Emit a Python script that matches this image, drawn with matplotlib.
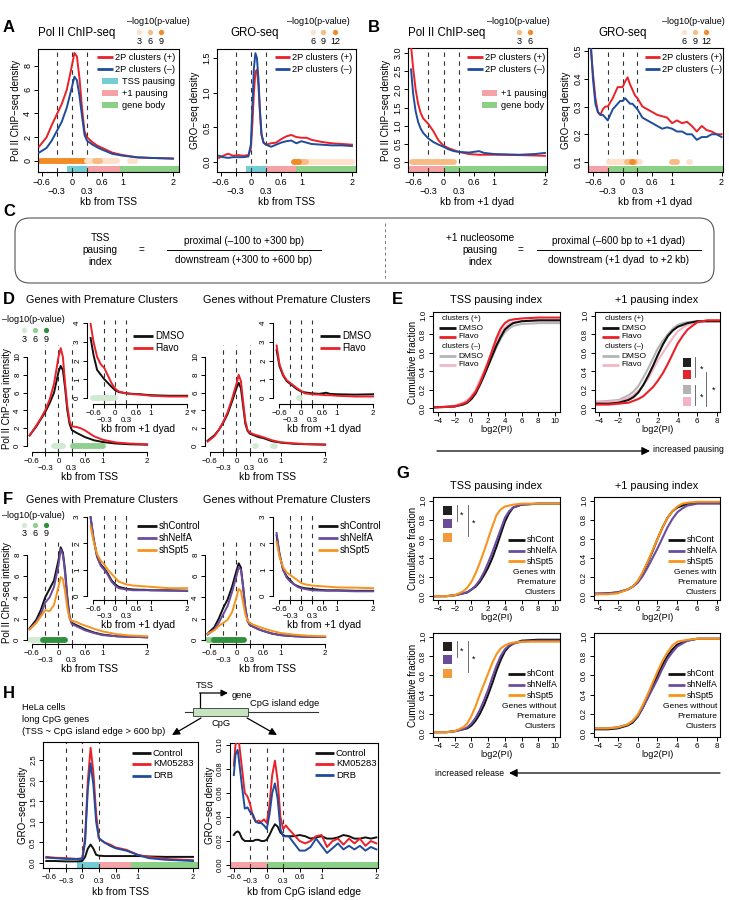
import numpy as np
import matplotlib
matplotlib.use("Agg")
import matplotlib.pyplot as plt
from matplotlib.patches import Rectangle, FancyBboxPatch
from matplotlib.transforms import blended_transform_factory

plt.rcParams['font.family'] = ['Liberation Sans', 'DejaVu Sans']
plt.rcParams['axes.linewidth'] = 0.8

##### DATA #####
# A: profiles around TSS (kb)
X_TSS = [-0.65, -0.5, -0.4, -0.3, -0.2, -0.1, 0, 0.05, 0.1, 0.15, 0.2, 0.25, 0.3, 0.4, 0.5, 0.6, 0.8, 1.0, 1.3, 1.6, 2.0]
a_chip_plus = [1.2, 2.0, 3.0, 3.9, 4.8, 6.0, 8.0, 9.1, 8.8, 7.0, 4.5, 2.5, 2.0, 1.6, 1.3, 1.1, 0.7, 0.5, 0.3, 0.25, 0.2]
a_chip_minus = [0.7, 1.1, 1.7, 2.5, 3.3, 4.5, 6.2, 7.1, 6.8, 5.5, 3.8, 2.2, 1.7, 1.4, 1.15, 0.95, 0.6, 0.45, 0.3, 0.25, 0.2]

X_A_GRO = [-0.63, -0.55, -0.45, -0.35, -0.25, -0.15, -0.05, 0, 0.03, 0.06, 0.09, 0.12, 0.15, 0.18, 0.21, 0.25,
           0.3, 0.4, 0.5, 0.6, 0.7, 0.8, 0.9, 1.0, 1.1, 1.2, 1.4, 1.6, 1.8, 2.0]
a_gro_plus = [0.06, 0.09, 0.12, 0.09, 0.1, 0.09, 0.1, 0.2, 0.55, 1.0, 1.3, 1.33, 1.1, 0.7, 0.4, 0.28,
              0.25, 0.27, 0.28, 0.33, 0.37, 0.39, 0.36, 0.35, 0.35, 0.32, 0.29, 0.27, 0.26, 0.25]
a_gro_minus = [0.09, 0.07, 0.06, 0.07, 0.07, 0.07, 0.08, 0.25, 0.8, 1.35, 1.57, 1.5, 1.2, 0.75, 0.4, 0.28,
               0.25, 0.22, 0.25, 0.28, 0.3, 0.31, 0.27, 0.3, 0.28, 0.26, 0.25, 0.24, 0.24, 0.23]

# B: profiles around +1 dyad
X_B_CHIP = [-0.64, -0.6, -0.55, -0.5, -0.45, -0.4, -0.3, -0.2, -0.1, 0, 0.1, 0.2, 0.3, 0.5, 0.7, 0.8, 1.0, 1.5, 1.8, 2.0]
b_chip_plus = [3.2, 2.6, 2.0, 1.6, 1.35, 1.2, 1.05, 0.85, 0.6, 0.45, 0.38, 0.33, 0.28, 0.22, 0.2, 0.2, 0.2, 0.19, 0.18, 0.17]
b_chip_minus = [2.55, 1.9, 1.4, 1.1, 0.92, 0.8, 0.65, 0.55, 0.48, 0.42, 0.35, 0.3, 0.28, 0.26, 0.3, 0.25, 0.22, 0.2, 0.22, 0.25]

X_B_GRO = [-0.64, -0.6, -0.55, -0.5, -0.45, -0.4, -0.35, -0.3, -0.2, -0.1, -0.05, 0, 0.05, 0.1, 0.15, 0.2, 0.25, 0.3,
           0.4, 0.5, 0.6, 0.7, 0.8, 0.9, 1.0, 1.1, 1.2, 1.3, 1.4, 1.5, 1.6, 1.7, 1.8, 1.9, 2.0]
b_gro_plus = [0.5, 0.42, 0.33, 0.28, 0.27, 0.29, 0.3, 0.3, 0.33, 0.37, 0.37, 0.37, 0.39, 0.405, 0.38, 0.36, 0.34, 0.33,
              0.3, 0.29, 0.28, 0.27, 0.265, 0.26, 0.24, 0.25, 0.24, 0.245, 0.23, 0.21, 0.23, 0.215, 0.21, 0.2, 0.2]
b_gro_minus = [0.52, 0.4, 0.31, 0.28, 0.27, 0.27, 0.26, 0.25, 0.29, 0.31, 0.32, 0.32, 0.33, 0.32, 0.31, 0.31, 0.3, 0.29,
               0.26, 0.25, 0.24, 0.23, 0.22, 0.225, 0.22, 0.21, 0.21, 0.2, 0.2, 0.18, 0.19, 0.19, 0.2, 0.2, 0.19]

# significance dots: (start kb, end kb, -log10 p level)
a_chip_sig = [(-0.63, 0.28, 3), (0.3, 0.9, 1), (0.45, 0.55, 2), (1.15, 1.25, 1)]
a_gro_sig = [(0.85, 2.0, 1), (0.95, 1.1, 2), (0.85, 0.95, 3)]
b_chip_sig = [(-0.62, 0.2, 2)]
b_gro_sig = [(-0.28, 0.35, 1), (0.08, 0.25, 2), (0.18, 0.22, 3), (0.55, 0.56, 1), (0.85, 0.86, 1), (1.0, 1.1, 2), (1.35, 1.36, 1)]

# D / F: profiles (TSS main, +1 dyad inset)
X_IN = [-0.68, -0.6, -0.5, -0.4, -0.3, -0.2, -0.1, 0, 0.1, 0.3, 0.5, 0.7, 0.8, 1.0, 1.5, 2.0]
d_with_dmso = [1.2, 2.2, 3.0, 3.8, 4.8, 6.0, 8.3, 9.0, 8.5, 6.5, 4.0, 2.5, 1.8, 1.5, 1.25, 1.0, 0.65, 0.45, 0.28, 0.2, 0.15]
d_with_flavo = [1.2, 2.3, 3.1, 4.0, 5.2, 7.0, 10.0, 11.0, 10.0, 7.0, 4.5, 2.8, 2.2, 2.15, 2.0, 1.75, 1.1, 0.7, 0.4, 0.28, 0.2]
d_without_dmso = [0.6, 1.2, 1.8, 2.6, 3.6, 5.0, 6.5, 7.1, 6.5, 4.5, 2.5, 1.7, 1.4, 1.2, 1.0, 0.9, 0.55, 0.38, 0.25, 0.2, 0.15]
d_without_flavo = [0.5, 1.1, 1.8, 2.7, 3.8, 5.3, 7.0, 8.0, 7.3, 5.0, 2.8, 1.8, 1.5, 1.3, 1.15, 1.0, 0.65, 0.42, 0.3, 0.22, 0.18]
d_with_dmso_in = [3.2, 2.3, 1.5, 1.25, 1.0, 0.8, 0.6, 0.42, 0.32, 0.25, 0.22, 0.2, 0.18, 0.15, 0.12, 0.12]
d_with_flavo_in = [3.95, 3.0, 2.2, 1.8, 1.6, 1.2, 0.8, 0.5, 0.35, 0.25, 0.2, 0.18, 0.16, 0.12, 0.08, 0.08]
d_without_dmso_in = [2.55, 1.7, 1.2, 0.9, 0.75, 0.6, 0.45, 0.35, 0.3, 0.25, 0.22, 0.28, 0.22, 0.2, 0.18, 0.2]
d_without_flavo_in = [2.8, 1.8, 1.25, 0.95, 0.8, 0.65, 0.5, 0.38, 0.25, 0.2, 0.18, 0.15, 0.15, 0.12, 0.08, 0.08]
d_with_sig = [(-0.1, 0.1, 1), (0.32, 1.0, 2)]
d_with_sig_in = [(-0.6, 0.0, 1)]
d_without_sig = [(0.42, 0.45, 1), (0.83, 0.86, 1)]
d_without_sig_in = [(-0.06, -0.03, 1)]

f_with_ctrl = [1.1, 1.9, 2.8, 4.0, 4.8, 5.6, 7.5, 8.7, 8.2, 6.5, 4.0, 2.2, 1.6, 1.4, 1.2, 1.0, 0.7, 0.5, 0.35, 0.3, 0.25]
f_with_nelfa = [1.0, 1.7, 2.4, 3.5, 4.0, 5.0, 7.0, 8.5, 8.0, 6.2, 3.8, 2.1, 1.5, 1.3, 1.1, 0.9, 0.65, 0.45, 0.35, 0.3, 0.25]
f_with_spt5 = [1.0, 1.6, 2.2, 2.8, 2.7, 3.3, 5.0, 5.9, 5.7, 4.5, 3.0, 2.0, 1.8, 1.7, 1.5, 1.35, 1.05, 0.8, 0.55, 0.42, 0.35]
f_without_ctrl = [0.6, 1.2, 2.0, 3.0, 3.8, 5.0, 6.5, 7.2, 6.8, 5.0, 3.0, 1.8, 1.4, 1.2, 1.0, 0.85, 0.6, 0.45, 0.35, 0.3, 0.28]
f_without_nelfa = [0.5, 1.0, 1.6, 2.4, 3.2, 4.5, 6.0, 6.8, 6.6, 5.0, 3.0, 1.8, 1.4, 1.2, 1.0, 0.85, 0.6, 0.45, 0.35, 0.3, 0.28]
f_without_spt5 = [0.6, 0.9, 1.3, 1.6, 1.9, 2.6, 4.0, 4.8, 4.6, 3.5, 2.4, 1.8, 1.6, 1.4, 1.25, 1.1, 0.85, 0.65, 0.5, 0.4, 0.35]
f_with_ctrl_in = [3.0, 2.2, 1.5, 1.2, 1.05, 0.85, 0.6, 0.45, 0.35, 0.28, 0.25, 0.24, 0.24, 0.22, 0.22, 0.2]
f_with_nelfa_in = [3.0, 2.2, 1.5, 1.15, 1.0, 0.8, 0.55, 0.4, 0.3, 0.25, 0.22, 0.22, 0.22, 0.22, 0.2, 0.2]
f_with_spt5_in = [2.65, 2.1, 1.6, 1.35, 1.2, 1.0, 0.85, 0.7, 0.55, 0.45, 0.4, 0.38, 0.37, 0.35, 0.3, 0.3]
f_without_ctrl_in = [2.3, 1.6, 1.0, 0.75, 0.6, 0.45, 0.38, 0.33, 0.3, 0.27, 0.24, 0.22, 0.22, 0.22, 0.2, 0.2]
f_without_nelfa_in = [2.4, 1.6, 1.0, 0.7, 0.55, 0.45, 0.35, 0.3, 0.27, 0.22, 0.21, 0.2, 0.2, 0.2, 0.18, 0.18]
f_without_spt5_in = [2.05, 1.5, 1.1, 0.9, 0.8, 0.7, 0.6, 0.5, 0.45, 0.4, 0.38, 0.36, 0.35, 0.33, 0.32, 0.3]
f_with_sig = [(-0.65, -0.35, 1), (-0.35, 0.15, 3)]
f_without_sig = [(-0.65, -0.5, 2), (-0.5, 0.18, 3)]

# E / G: cumulative distributions of log2(PI)
X_CDF_TSS = [-4.6, -3, -2, -1, -0.5, 0, 0.5, 1, 1.5, 2, 2.5, 3, 3.5, 4, 4.5, 5, 6, 8, 10.6]
X_CDF_P1 = [-4.4, -3, -2, -1, -0.5, 0, 0.5, 1, 1.5, 2, 2.5, 3, 3.5, 4, 4.5, 5, 6, 7, 8.3]
e_tss_dmso_p = [0.01, 0.015, 0.02, 0.04, 0.06, 0.1, 0.16, 0.25, 0.35, 0.46, 0.57, 0.68, 0.77, 0.85, 0.89, 0.92, 0.94, 0.95, 0.95]
e_tss_flavo_p = [0.01, 0.015, 0.02, 0.05, 0.07, 0.12, 0.18, 0.27, 0.38, 0.5, 0.63, 0.76, 0.86, 0.92, 0.95, 0.96, 0.97, 0.98, 0.98]
e_tss_dmso_m = [0.01, 0.015, 0.02, 0.05, 0.08, 0.12, 0.18, 0.27, 0.36, 0.46, 0.56, 0.66, 0.75, 0.82, 0.86, 0.89, 0.91, 0.92, 0.92]
e_tss_flavo_m = [0.01, 0.02, 0.03, 0.06, 0.09, 0.13, 0.2, 0.3, 0.4, 0.5, 0.61, 0.72, 0.81, 0.87, 0.91, 0.93, 0.94, 0.95, 0.95]
e_p1_dmso_p = [0.05, 0.05, 0.06, 0.09, 0.12, 0.17, 0.25, 0.35, 0.46, 0.58, 0.69, 0.78, 0.84, 0.88, 0.9, 0.92, 0.94, 0.94, 0.94]
e_p1_flavo_p = [0.04, 0.04, 0.05, 0.06, 0.08, 0.1, 0.13, 0.18, 0.23, 0.3, 0.38, 0.48, 0.59, 0.7, 0.78, 0.85, 0.93, 0.95, 0.95]
e_p1_dmso_m = [0.07, 0.08, 0.09, 0.14, 0.18, 0.24, 0.33, 0.43, 0.54, 0.65, 0.73, 0.8, 0.86, 0.9, 0.92, 0.93, 0.94, 0.94, 0.94]
e_p1_flavo_m = [0.07, 0.07, 0.08, 0.11, 0.14, 0.19, 0.25, 0.32, 0.42, 0.52, 0.6, 0.68, 0.76, 0.83, 0.87, 0.9, 0.93, 0.95, 0.95]

g_tss_with = {'shCont': [0.0, 0.0, 0.01, 0.03, 0.04, 0.07, 0.1, 0.15, 0.22, 0.3, 0.4, 0.52, 0.65, 0.78, 0.87, 0.93, 0.96, 0.97, 0.97],
              'shNelfA': [0.0, 0.0, 0.01, 0.03, 0.04, 0.07, 0.11, 0.17, 0.25, 0.35, 0.46, 0.58, 0.7, 0.82, 0.89, 0.93, 0.96, 0.97, 0.97],
              'shSpt5': [0.0, 0.0, 0.01, 0.05, 0.09, 0.15, 0.24, 0.35, 0.47, 0.6, 0.73, 0.85, 0.91, 0.94, 0.95, 0.96, 0.97, 0.97, 0.97]}
g_p1_with = {'shCont': [0.02, 0.03, 0.04, 0.07, 0.1, 0.15, 0.24, 0.35, 0.47, 0.6, 0.72, 0.82, 0.89, 0.93, 0.95, 0.97, 0.98, 0.98, 0.98],
             'shNelfA': [0.03, 0.03, 0.04, 0.07, 0.1, 0.14, 0.21, 0.3, 0.4, 0.5, 0.61, 0.72, 0.81, 0.88, 0.92, 0.95, 0.97, 0.97, 0.97],
             'shSpt5': [0.02, 0.02, 0.03, 0.07, 0.1, 0.16, 0.25, 0.36, 0.48, 0.6, 0.72, 0.82, 0.89, 0.94, 0.97, 0.98, 0.99, 0.99, 0.99]}
g_tss_without = {'shCont': [0.01, 0.01, 0.02, 0.04, 0.05, 0.08, 0.13, 0.2, 0.29, 0.4, 0.52, 0.65, 0.76, 0.85, 0.9, 0.93, 0.96, 0.97, 0.97],
                 'shNelfA': [0.01, 0.01, 0.02, 0.04, 0.06, 0.1, 0.16, 0.24, 0.34, 0.45, 0.58, 0.7, 0.8, 0.87, 0.91, 0.93, 0.95, 0.96, 0.96],
                 'shSpt5': [0.01, 0.01, 0.02, 0.06, 0.1, 0.18, 0.28, 0.4, 0.51, 0.62, 0.73, 0.82, 0.88, 0.91, 0.93, 0.94, 0.95, 0.95, 0.95]}
g_p1_without = {'shCont': [0.04, 0.04, 0.05, 0.08, 0.11, 0.17, 0.26, 0.37, 0.49, 0.6, 0.71, 0.8, 0.87, 0.92, 0.94, 0.96, 0.98, 0.98, 0.98],
                'shNelfA': [0.05, 0.05, 0.06, 0.09, 0.12, 0.18, 0.26, 0.36, 0.46, 0.56, 0.67, 0.77, 0.84, 0.9, 0.93, 0.96, 0.98, 0.98, 0.98],
                'shSpt5': [0.05, 0.05, 0.06, 0.09, 0.13, 0.19, 0.29, 0.4, 0.52, 0.64, 0.75, 0.84, 0.91, 0.95, 0.96, 0.97, 0.98, 0.98, 0.98]}

# H: GRO-seq in HeLa long CpG genes
X_H_TSS = [-0.65, -0.5, -0.3, -0.1, 0, 0.05, 0.1, 0.15, 0.2, 0.25, 0.3, 0.4, 0.5, 0.6, 0.8, 1.0, 1.2, 1.5, 2.0]
h_tss_control = [0.05, 0.05, 0.04, 0.04, 0.05, 0.15, 0.35, 0.45, 0.35, 0.2, 0.18, 0.17, 0.17, 0.17, 0.17, 0.17, 0.16, 0.15, 0.15]
h_tss_km = [0.15, 0.13, 0.12, 0.1, 0.12, 0.6, 2.0, 2.8, 2.2, 1.2, 0.6, 0.5, 0.45, 0.38, 0.32, 0.2, 0.15, 0.1, 0.07]
h_tss_drb = [0.13, 0.12, 0.1, 0.1, 0.1, 0.5, 1.8, 2.42, 1.9, 1.0, 0.6, 0.5, 0.42, 0.36, 0.3, 0.2, 0.12, 0.08, 0.05]
X_H_CPG = [-0.6, -0.57, -0.53, -0.5, -0.45, -0.4, -0.35, -0.3, -0.25, -0.2, -0.15, -0.1, -0.05, 0,
           0.05, 0.1, 0.15, 0.2, 0.25, 0.3, 0.35, 0.4, 0.5, 0.6, 0.7, 0.8, 0.9, 1.0, 1.1, 1.2, 1.3, 1.4,
           1.5, 1.6, 1.7, 1.8, 1.9, 2.0]
h_cpg_control = [0.025, 0.027, 0.028, 0.027, 0.022, 0.02, 0.02, 0.02, 0.02, 0.021, 0.021, 0.02, 0.02, 0.021,
                 0.025, 0.03, 0.034, 0.032, 0.027, 0.025, 0.024, 0.024, 0.024, 0.025, 0.024, 0.022, 0.023, 0.024,
                 0.022, 0.022, 0.023, 0.025, 0.024, 0.022, 0.022, 0.023, 0.022, 0.023]
h_cpg_km = [0.083, 0.1, 0.105, 0.1, 0.08, 0.06, 0.057, 0.05, 0.04, 0.036, 0.037, 0.036, 0.038, 0.035,
            0.05, 0.075, 0.087, 0.07, 0.04, 0.03, 0.033, 0.03, 0.025, 0.02, 0.018, 0.02, 0.024, 0.025,
            0.015, 0.02, 0.022, 0.017, 0.022, 0.018, 0.022, 0.016, 0.02, 0.018]
h_cpg_drb = [0.075, 0.092, 0.096, 0.085, 0.065, 0.047, 0.048, 0.044, 0.042, 0.036, 0.035, 0.035, 0.033, 0.03,
             0.042, 0.06, 0.068, 0.055, 0.03, 0.024, 0.024, 0.024, 0.018, 0.012, 0.012, 0.015, 0.022, 0.016,
             0.01, 0.014, 0.018, 0.013, 0.016, 0.013, 0.016, 0.012, 0.015, 0.013]

##### STYLE #####
RED = '#ea2128'
BLUE = '#1f4c9c'
BLK = '#111111'
PURP = '#6a4c9f'
ORNG = '#f7941d'
GRAY = '#b5b5b5'
PINK = '#f5b5c5'
CYAN_R, PINK_R, GREEN_R = '#72cdd5', '#f4a2a6', '#8ccf86'
ORANGE_LV = {1: '#fde1c9', 2: '#f9bb84', 3: '#f28a25'}
GREEN_LV = {1: '#d2e9d2', 2: '#8fcf8f', 3: '#2e8f3c'}
DASH = (0, (4, 4))

W, H = 729, 900
fig = plt.figure(figsize=(W / 100, H / 100), dpi=100)


def px(x0, y0, x1, y1):
    return [x0 / W, 1 - y1 / H, (x1 - x0) / W, (y1 - y0) / H]


def kb_ticks(ax, fs, pad2):
    ax.set_xticks([-0.6, 0, 0.6, 1, 2])
    ax.set_xticklabels(['\u22120.6', '0', '0.6', '1', '2'])
    ax.set_xticks([-0.3, 0.3], minor=True)
    ax.set_xticklabels(['\u22120.3', '0.3'], minor=True)
    ax.tick_params(axis='x', which='both', labelsize=fs, length=3, width=0.7, pad=1)
    ax.tick_params(axis='x', which='minor', pad=pad2)


def y_ticks(ax, ticks, labels, fs):
    ax.set_yticks(ticks)
    ax.set_yticklabels(labels, rotation=90, va='center')
    ax.tick_params(axis='y', labelsize=fs, length=3, width=0.7, pad=1.2)


def region_bars(ax, spans, h=0.045):
    tr = blended_transform_factory(ax.transData, ax.transAxes)
    for x0, x1, c in spans:
        ax.add_patch(Rectangle((x0, 0), x1 - x0, h, transform=tr, color=c, lw=0, zorder=1))


def sig(ax, segs, y, lv):
    for x0, x1, l in segs:
        ax.plot([x0, x1], [y, y], color=lv[l], lw=4.2, solid_capstyle='round', zorder=2)


def profile_box(rect, xlim, ylim, series, yt, ylab, ylabel, xlabel, fs=6.5, pad2=7.5):
    ax = fig.add_axes(px(*rect))
    for x, y, c in series:
        ax.plot(x, y, color=c, lw=1.4, zorder=3)
    for d in (-0.3, 0, 0.3):
        ax.axvline(d, color='#333333', lw=0.8, ls=DASH, zorder=2)
    ax.set_xlim(*xlim)
    ax.set_ylim(*ylim)
    kb_ticks(ax, fs, pad2)
    y_ticks(ax, yt, ylab, fs)
    ax.set_ylabel(ylabel, fontsize=7, labelpad=1.5)
    ax.set_xlabel(xlabel, fontsize=7.4, labelpad=1)
    return ax


def profile_open(rect, xlim, ylim, series, yt, xlabel, ylabel=None):
    ax = fig.add_axes(px(*rect))
    ax.patch.set_alpha(0)
    for x, y, c in series:
        ax.plot(x, y, color=c, lw=1.4, zorder=3)
    for d in (-0.3, 0, 0.3):
        ax.axvline(d, color='#333333', lw=0.8, ls=DASH, zorder=2)
    ax.set_xlim(*xlim)
    ax.set_ylim(*ylim)
    for s in ('top', 'right'):
        ax.spines[s].set_visible(False)
    ax.spines['left'].set_bounds(yt[0], yt[-1])
    ax.spines['bottom'].set_bounds(-0.6, 2)
    kb_ticks(ax, 5.8, 6)
    y_ticks(ax, yt, [str(t) for t in yt], 5.8)
    ax.set_xlabel(xlabel, fontsize=7.4, labelpad=0)
    if ylabel:
        ax.set_ylabel(ylabel, fontsize=7, labelpad=1.5)
    return ax


def cdf_axes(rect, xlim, xt, xs, series, ylabel=True):
    ax = fig.add_axes(px(*rect))
    for y, c in series:
        ax.plot(xs, y, color=c, lw=1.5)
    ax.set_xlim(*xlim)
    ax.set_ylim(-0.04, 1.04)
    ax.set_xticks(xt)
    ax.set_xticklabels([str(t).replace('-', '\u2212') for t in xt])
    ax.tick_params(axis='x', labelsize=5.8, length=3, width=0.7, pad=1)
    y_ticks(ax, [0, 0.2, 0.4, 0.6, 0.8, 1.0], ['0.0', '0.2', '0.4', '0.6', '0.8', '1.0'], 5.8)
    ax.set_xlabel('log2(PI)', fontsize=6.6, labelpad=0)
    if ylabel:
        ax.set_ylabel('Cumulative fraction', fontsize=7, labelpad=1.5)
    return ax


##### A #####
ax = profile_box((38, 49, 179, 172), (-0.67, 2.12), (-0.93, 9.43),
                 [(X_TSS, a_chip_plus, RED), (X_TSS, a_chip_minus, BLUE)],
                 [0, 2, 4, 6, 8], ['0', '2', '4', '6', '8'], 'Pol II ChIP\u2212seq density', 'kb from TSS')
sig(ax, a_chip_sig, 0, ORANGE_LV)
region_bars(ax, [(-0.1, 0.3, CYAN_R), (0.3, 0.95, PINK_R), (0.95, 2.3, GREEN_R)])

ax = profile_box((217, 49, 356, 172), (-0.67, 2.08), (-0.144, 1.63),
                 [(X_A_GRO, a_gro_plus, RED), (X_A_GRO, a_gro_minus, BLUE)],
                 [0, 0.5, 1.0, 1.5], ['0.0', '0.5', '1.0', '1.5'], 'GRO\u2212seq density', 'kb from TSS')
sig(ax, a_gro_sig, 0, ORANGE_LV)
region_bars(ax, [(-0.1, 0.3, CYAN_R), (0.3, 0.9, PINK_R), (0.9, 2.3, GREEN_R)])

##### B #####
ax = profile_box((408, 48, 547, 172), (-0.7, 2.04), (-0.275, 3.14),
                 [(X_B_CHIP, b_chip_plus, RED), (X_B_CHIP, b_chip_minus, BLUE)],
                 [0, 0.5, 1.0, 1.5, 2.0, 2.5, 3.0], ['0.0', '0.5', '1.0', '1.5', '2.0', '2.5', '3.0'],
                 'Pol II ChIP\u2212seq density', 'kb from +1 dyad')
sig(ax, b_chip_sig, 0, ORANGE_LV)
region_bars(ax, [(-0.9, 0, PINK_R), (0, 2.3, GREEN_R)])

ax = profile_box((588, 48, 723, 172), (-0.7, 2.03), (0.064, 0.511),
                 [(X_B_GRO, b_gro_plus, RED), (X_B_GRO, b_gro_minus, BLUE)],
                 [0.1, 0.2, 0.3, 0.4, 0.5], ['0.1', '0.2', '0.3', '0.4', '0.5'], 'GRO\u2212seq density',
                 'kb from +1 dyad')
sig(ax, b_gro_sig, 0.1, ORANGE_LV)
region_bars(ax, [(-0.9, -0.27, PINK_R), (-0.27, 2.3, GREEN_R)])

##### D #####
ylab_chp = 'Pol II ChP-seq intensity'
profile_open((27, 345, 152, 452), (-0.71, 2.11), (-0.67, 11.35),
             [(X_TSS, d_with_dmso, BLK), (X_TSS, d_with_flavo, RED)], [0, 2, 4, 6, 8, 10], 'kb from TSS', ylab_chp)
sig(fig.axes[-1], d_with_sig, 0, GREEN_LV)
profile_open((87, 320, 190, 404), (-0.78, 2.08), (-0.32, 4.16),
             [(X_IN, d_with_dmso_in, BLK), (X_IN, d_with_flavo_in, RED)], [0, 1, 2, 3, 4], 'kb from +1 dyad')
sig(fig.axes[-1], d_with_sig_in, 0, GREEN_LV)
profile_open((205, 345, 330, 452), (-0.71, 2.11), (-0.67, 11.35),
             [(X_TSS, d_without_dmso, BLK), (X_TSS, d_without_flavo, RED)], [0, 2, 4, 6, 8, 10], 'kb from TSS')
sig(fig.axes[-1], d_without_sig, 0, GREEN_LV)
profile_open((273, 320, 376, 404), (-0.78, 2.08), (-0.32, 4.16),
             [(X_IN, d_without_dmso_in, BLK), (X_IN, d_without_flavo_in, RED)], [0, 1, 2, 3, 4], 'kb from +1 dyad')
sig(fig.axes[-1], d_without_sig_in, 0, GREEN_LV)

##### F #####
profile_open((27, 542, 152, 644), (-0.71, 2.11), (-0.38, 9.2),
             [(X_TSS, f_with_ctrl, BLK), (X_TSS, f_with_nelfa, PURP), (X_TSS, f_with_spt5, ORNG)],
             [0, 2, 4, 6, 8], 'kb from TSS', ylab_chp)
sig(fig.axes[-1], f_with_sig, 0, GREEN_LV)
profile_open((87, 513, 190, 600), (-0.78, 2.08), (-0.15, 3.16),
             [(X_IN, f_with_ctrl_in, BLK), (X_IN, f_with_nelfa_in, PURP), (X_IN, f_with_spt5_in, ORNG)],
             [0, 1, 2, 3], 'kb from +1 dyad')
profile_open((205, 542, 330, 644), (-0.71, 2.11), (-0.38, 9.2),
             [(X_TSS, f_without_ctrl, BLK), (X_TSS, f_without_nelfa, PURP), (X_TSS, f_without_spt5, ORNG)],
             [0, 2, 4, 6, 8], 'kb from TSS')
sig(fig.axes[-1], f_without_sig, 0, GREEN_LV)
profile_open((273, 513, 376, 600), (-0.78, 2.08), (-0.15, 3.16),
             [(X_IN, f_without_ctrl_in, BLK), (X_IN, f_without_nelfa_in, PURP), (X_IN, f_without_spt5_in, ORNG)],
             [0, 1, 2, 3], 'kb from +1 dyad')

##### E #####
XT_TSS = [-4, -2, 0, 2, 4, 6, 8, 10]
XT_P1 = [-4, -2, 0, 2, 4, 6, 8]
cdf_axes((433, 312, 560, 412), (-4.6, 10.6), XT_TSS, X_CDF_TSS,
         [(e_tss_dmso_m, GRAY), (e_tss_flavo_m, PINK), (e_tss_dmso_p, BLK), (e_tss_flavo_p, RED)])
cdf_axes((595, 312, 720, 412), (-4.4, 8.3), XT_P1, X_CDF_P1,
         [(e_p1_dmso_m, GRAY), (e_p1_flavo_m, PINK), (e_p1_dmso_p, BLK), (e_p1_flavo_p, RED)], ylabel=False)

##### G #####
sh_cols = {'shCont': BLK, 'shNelfA': PURP, 'shSpt5': ORNG}
cdf_axes((433, 497, 560, 600), (-4.6, 10.6), XT_TSS, X_CDF_TSS, [(v, sh_cols[k]) for k, v in g_tss_with.items()])
cdf_axes((594, 497, 720, 600), (-4.4, 8.3), XT_P1, X_CDF_P1, [(v, sh_cols[k]) for k, v in g_p1_with.items()], ylabel=False)
cdf_axes((433, 633, 560, 737), (-4.6, 10.6), XT_TSS, X_CDF_TSS, [(v, sh_cols[k]) for k, v in g_tss_without.items()])
cdf_axes((594, 633, 720, 737), (-4.4, 8.3), XT_P1, X_CDF_P1, [(v, sh_cols[k]) for k, v in g_p1_without.items()], ylabel=False)

##### H #####
ax = profile_box((43, 742, 198, 868), (-0.71, 2.09), (-0.12, 2.94),
                 [(X_H_TSS, h_tss_control, BLK), (X_H_TSS, h_tss_km, RED), (X_H_TSS, h_tss_drb, BLUE)],
                 [0, 0.5, 1.0, 1.5, 2.0, 2.5], ['0.0', '0.5', '1.0', '1.5', '2.0', '2.5'],
                 'GRO\u2212seq density', 'kb from TSS', fs=5.5, pad2=4.5)
region_bars(ax, [(-0.1, 0.3, CYAN_R), (0.3, 0.88, PINK_R), (0.88, 2.3, GREEN_R)])
ax = profile_box((230, 743, 378, 868), (-0.67, 2.03), (-0.0025, 0.1017),
                 [(X_H_CPG, h_cpg_control, BLK), (X_H_CPG, h_cpg_km, RED), (X_H_CPG, h_cpg_drb, BLUE)],
                 [0, 0.02, 0.04, 0.06, 0.08, 0.10], ['0.00', '0.02', '0.04', '0.06', '0.08', '0.10'],
                 'GRO\u2212seq density', 'kb from CpG island edge', fs=5.5, pad2=4.5)
region_bars(ax, [(-0.9, 0, PINK_R), (0, 2.3, GREEN_R)])

##### OVERLAY (pixel coordinates) #####
ov = fig.add_axes([0, 0, 1, 1], zorder=50)
ov.set_xlim(0, W)
ov.set_ylim(H, 0)
ov.axis('off')


def T(x, y, s, fs=7, ha='left', va='center', **kw):
    ov.text(x, y, s, fontsize=fs, ha=ha, va=va, **kw)


def leg_line(x0, x1, y, c, label, fs=6.7, lw=2):
    ov.plot([x0, x1], [y, y], color=c, lw=lw, solid_capstyle='butt')
    T(x1 + 2, y, label, fs)


def leg_patch(x0, x1, y, c, label, fs=6.7):
    ov.add_patch(Rectangle((x0, y - 3), x1 - x0, 6, color=c, lw=0))
    T(x1 + 4, y, label, fs)


def pval_key(cx, xs, labels, lv, y0, fs=6.5):
    T(cx, y0, '\u2013log10(p-value)', fs, ha='center')
    for x, l, c in zip(xs, labels, lv):
        ov.plot(x, y0 + 10, 'o', ms=3.8, color=c, mec='none')
        T(x, y0 + 19, l, fs, ha='center')


for s, x, y in [('A', 3, 27), ('B', 368, 27), ('C', 3, 212), ('D', 3, 300), ('E', 392, 300),
                ('F', 3, 500), ('G', 396, 474), ('H', 3, 693)]:
    T(x, y, s, 12, fontweight='bold')

T(38, 33, 'Pol II ChIP-seq', 8.3)
T(230, 33, 'GRO-seq', 8.3)
T(408, 33, 'Pol II ChIP-seq', 8.3)
T(598, 33, 'GRO-seq', 8.3)
pval_key(158, [139, 150, 161], ['3', '6', '9'], [ORANGE_LV[1], ORANGE_LV[2], ORANGE_LV[3]], 22)
pval_key(318, [313, 323, 335], ['6', '9', '12'], [ORANGE_LV[1], ORANGE_LV[2], ORANGE_LV[3]], 22)
pval_key(518, [519, 530], ['3', '6'], [ORANGE_LV[2], ORANGE_LV[3]], 22)
pval_key(693, [684, 695, 706], ['6', '9', '12'], [ORANGE_LV[1], ORANGE_LV[2], ORANGE_LV[3]], 22)

leg_line(97, 113, 57, RED, '2P clusters (+)')
leg_line(97, 113, 69, BLUE, '2P clusters (\u2013)')
leg_patch(102, 118, 81, CYAN_R, 'TSS pausing')
leg_patch(102, 118, 93, PINK_R, '+1 pausing')
leg_patch(102, 118, 105, GREEN_R, 'gene body')
leg_line(275, 290, 57, RED, '2P clusters (+)')
leg_line(275, 290, 69, BLUE, '2P clusters (\u2013)')
leg_line(467, 483, 57, RED, '2P clusters (+)')
leg_line(467, 483, 69, BLUE, '2P clusters (\u2013)')
leg_patch(482, 497, 93, PINK_R, '+1 pausing')
leg_patch(482, 497, 105, GREEN_R, 'gene body')
leg_line(645, 660, 57, RED, '2P clusters (+)')
leg_line(645, 660, 69, BLUE, '2P clusters (\u2013)')

# C: pausing index definitions
ov.add_patch(FancyBboxPatch((15, 218), 699, 65, boxstyle='round,pad=0,rounding_size=15',
                            fc='none', ec='#555555', lw=0.8))
T(100, 250, 'TSS\npausing\nindex', 7.2, ha='center', linespacing=1.3)
T(141, 250, '=', 7.2, ha='center')
T(244, 241, 'proximal (\u2013100 to +300 bp)', 7.2, ha='center')
ov.plot([167, 321], [250, 250], color='k', lw=0.7)
T(244, 260, 'downstream (+300 to +600 bp)', 7.2, ha='center')
ov.plot([385, 385], [223, 278], color='#777777', lw=0.7, ls=(0, (3, 3)))
T(480, 250, '+1 nucleosome\npausing\nindex', 7.2, ha='center', linespacing=1.3)
T(520, 250, '=', 7.2, ha='center')
T(619, 241, 'proximal (\u2013600 bp to +1 dyad)', 7.2, ha='center')
ov.plot([537, 701], [250, 250], color='k', lw=0.7)
T(619, 260, 'downstream (+1 dyad  to +2 kb)', 7.2, ha='center')

# D / F headers and keys
for yh in (300, 500):
    T(102, yh, 'Genes with Premature Clusters', 7.8, ha='center')
    T(287, yh, 'Genes without Premature Clusters', 7.8, ha='center')
pval_key(33, [24, 35, 46], ['3', '6', '9'], [GREEN_LV[1], GREEN_LV[2], GREEN_LV[3]], 320, fs=6.5)
pval_key(33, [24, 35, 46], ['3', '6', '9'], [GREEN_LV[1], GREEN_LV[2], GREEN_LV[3]], 515, fs=6.5)
for x0 in (133, 320):
    leg_line(x0, x0 + 20, 336, BLK, 'DMSO', 7)
    leg_line(x0, x0 + 20, 348, RED, 'Flavo', 7)
for x0 in (137, 318):
    leg_line(x0, x0 + 20, 526, BLK, 'shControl', 7)
    leg_line(x0, x0 + 20, 538, PURP, 'shNelfA', 7)
    leg_line(x0, x0 + 20, 550, ORNG, 'shSpt5', 7)

# E titles, keys, stats
T(496, 300, 'TSS pausing index', 7.8, ha='center')
T(657, 300, '+1 pausing index', 7.8, ha='center')
for x0 in (439, 602):
    T(x0 + 3, 318, 'clusters (+)', 5.6)
    leg_line(x0, x0 + 17, 328, BLK, 'DMSO', 6)
    leg_line(x0, x0 + 17, 337, RED, 'Flavo', 6)
    T(x0 + 3, 347, 'clusters (\u2013)', 5.6)
    leg_line(x0, x0 + 17, 356, GRAY, 'DMSO', 6)
    leg_line(x0, x0 + 17, 365, PINK, 'Flavo', 6)
for yc, c in zip([362, 374, 389, 401], ['#231f20', '#e0262b', '#b3b3b3', '#f4b3c2']):
    ov.add_patch(Rectangle((683, yc - 4.5), 8, 9, color=c, lw=0))
for (x, y0, y1, sx, sy) in [(695, 357, 377, 700, 369), (695, 385, 405, 700, 397), (706, 372, 406, 712, 390)]:
    ov.plot([x, x], [y0, y1], color='#555555', lw=0.6)
    T(sx, sy, '*', 6.5)
ov.annotate('', xy=(650, 451), xytext=(437, 451),
            arrowprops=dict(arrowstyle='-|>', color='k', lw=0.9, mutation_scale=12, shrinkA=0, shrinkB=0))
T(653, 450, 'increased pausing', 6.2)

# G titles, keys, stats
T(496, 486, 'TSS pausing index', 7.8, ha='center')
T(657, 486, '+1 pausing index', 7.8, ha='center')
for ytop, lines in [(540, ['Genes with', 'Premature', 'Clusters']), (674, ['Genes without', 'Premature', 'Clusters'])]:
    for x0, xr in ((508, 556), (668, 717)):
        leg_line(x0, x0 + 17, ytop, BLK, 'shCont', 6.3)
        leg_line(x0, x0 + 17, ytop + 10.5, PURP, 'shNelfA', 6.3)
        leg_line(x0, x0 + 17, ytop + 21, ORNG, 'shSpt5', 6.3)
        for i, s in enumerate(lines):
            T(xr, ytop + 32 + 10.5 * i, s, 6.1, ha='right')
for yb in (510, 646):
    for i, c in enumerate(['#231f20', '#6b4c9a', '#f39a3d']):
        ov.add_patch(Rectangle((443, yb + 13.5 * i - 4.5), 9, 9, color=c, lw=0))
    ov.plot([457, 457], [yb - 5, yb + 11], color='#555555', lw=0.6)
    T(460, yb + 5, '*', 6.5)
    ov.plot([468, 468], [yb - 5, yb + 26], color='#555555', lw=0.6)
    T(472, yb + 13, '*', 6.5)
ov.annotate('', xy=(509, 773), xytext=(720, 773),
            arrowprops=dict(arrowstyle='-|>', color='k', lw=0.9, mutation_scale=12, shrinkA=0, shrinkB=0))
T(435, 773, 'increased release', 6.2)

# H schematic
T(22, 708, 'HeLa cells', 6.7)
T(22, 720, 'long CpG genes', 6.7)
T(22, 732, '(TSS ~ CpG island edge > 600 bp)', 6.7)
ov.plot([185, 318], [712, 712], color='#333333', lw=0.8)
ov.add_patch(Rectangle((193, 708), 55, 8, fc='#c6e5bf', ec='#333333', lw=0.6, zorder=3))
ov.plot([200, 200], [708, 693], color='k', lw=0.9)
ov.annotate('', xy=(228, 693), xytext=(199.6, 693),
            arrowprops=dict(arrowstyle='-|>', color='k', lw=0.9, mutation_scale=10, shrinkA=0, shrinkB=0))
T(205, 685, 'TSS', 6.7, ha='center')
T(232, 695, 'gene', 6.7)
T(250, 704, 'CpG island edge', 6.7)
T(221, 724, 'CpG', 6.7, ha='center')
ov.annotate('', xy=(172, 735), xytext=(201, 718),
            arrowprops=dict(arrowstyle='-|>', color='k', lw=0.9, mutation_scale=11, shrinkA=0, shrinkB=0))
ov.annotate('', xy=(277, 735), xytext=(247, 718),
            arrowprops=dict(arrowstyle='-|>', color='k', lw=0.9, mutation_scale=11, shrinkA=0, shrinkB=0))
for x0, ys in ((132, (753, 764, 776)), (315, (753, 764, 775))):
    leg_line(x0, x0 + 19, ys[0], BLK, 'Control', 6.8)
    leg_line(x0, x0 + 19, ys[1], RED, 'KM05283', 6.8)
    leg_line(x0, x0 + 19, ys[2], BLUE, 'DRB', 6.8)

fig.savefig('out.png', dpi=100)
